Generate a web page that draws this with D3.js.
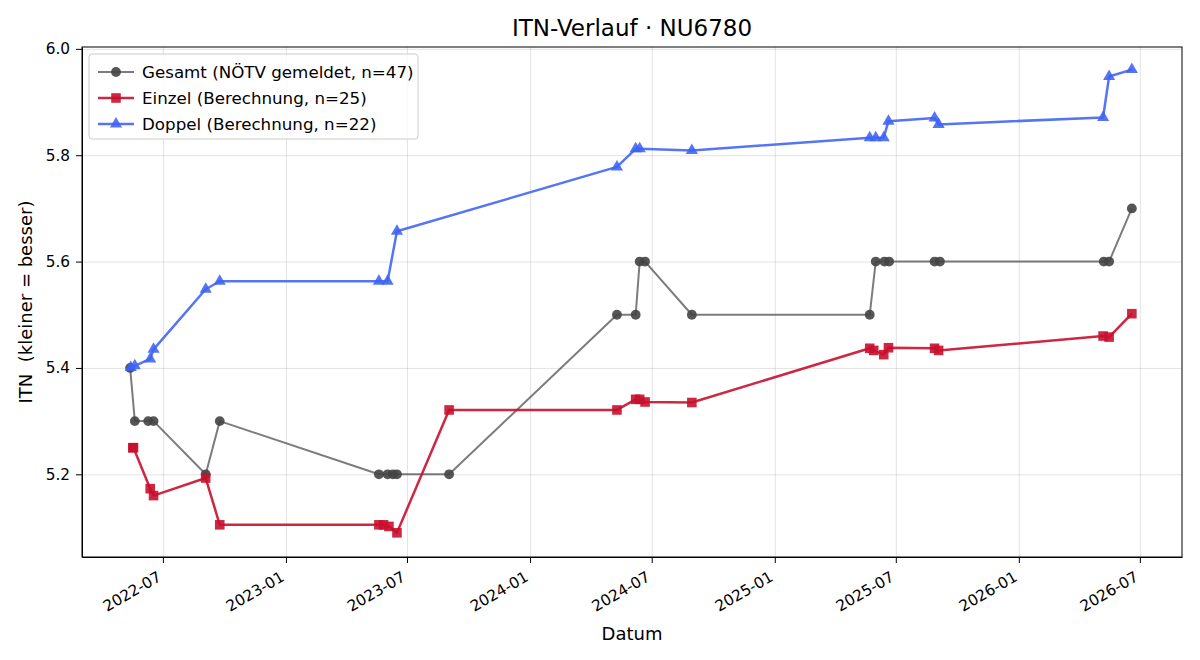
<!DOCTYPE html>
<html>
<head>
<meta charset="utf-8">
<script src="https://cdn.jsdelivr.net/npm/d3@7"></script>
<style>
  body { margin: 0; background: #fff; }
  svg { font-family: "DejaVu Sans", sans-serif; }
  .grid line { stroke: #b0b0b0; stroke-opacity: 0.35; }
  .grid path { display: none; }
  .axis path, .axis line { stroke: #000; }
</style>
</head>
<body>
<div id="chart"></div>
<script>
/* ITN-Verlauf chart */

const TITLE = 'ITN-Verlauf · NU6780';

// Gesamt (NÖTV gemeldet) — distinct visible points
const gesamtDates = [
  '2022-05-13', '2022-05-20', '2022-06-09', '2022-06-17', '2022-09-03', '2022-09-24',
  '2023-05-20', '2023-06-02', '2023-06-10', '2023-06-16', '2023-09-02',
  '2024-05-10', '2024-06-07', '2024-06-13', '2024-06-21', '2024-08-30',
  '2025-05-23', '2025-06-01', '2025-06-14', '2025-06-21', '2025-08-28', '2025-09-05',
  '2026-05-08', '2026-05-16', '2026-06-19'
];
const gesamtValues = [
  5.4, 5.3, 5.3, 5.3, 5.2, 5.3,
  5.2, 5.2, 5.2, 5.2, 5.2,
  5.5, 5.5, 5.6, 5.6, 5.5,
  5.5, 5.6, 5.6, 5.6, 5.6, 5.6,
  5.6, 5.6, 5.7
];

// Einzel (Berechnung, n=25)
const einzelDates = [
  '2022-05-17', '2022-05-18', '2022-06-12', '2022-06-17', '2022-09-03', '2022-09-24',
  '2023-05-20', '2023-05-27', '2023-06-04', '2023-06-16', '2023-09-02',
  '2024-05-10', '2024-06-07', '2024-06-13', '2024-06-21', '2024-08-30',
  '2025-05-23', '2025-05-29', '2025-06-13', '2025-06-20', '2025-08-28', '2025-09-03',
  '2026-05-07', '2026-05-16', '2026-06-19'
];
const einzelValues = [
  5.250, 5.250, 5.173, 5.160, 5.193, 5.105,
  5.105, 5.105, 5.102, 5.090, 5.321,
  5.321, 5.341, 5.341, 5.336, 5.335,
  5.437, 5.433, 5.425, 5.438, 5.437, 5.433,
  5.460, 5.458, 5.502
];

// Doppel (Berechnung, n=22)
const doppelDates = [
  '2022-05-14', '2022-05-20', '2022-06-12', '2022-06-17', '2022-09-03', '2022-09-24',
  '2023-05-20', '2023-06-02', '2023-06-16',
  '2024-05-10', '2024-06-07', '2024-06-13', '2024-08-30',
  '2025-05-23', '2025-06-01', '2025-06-13', '2025-06-20', '2025-08-28', '2025-09-03',
  '2026-05-07', '2026-05-16', '2026-06-19'
];
const doppelValues = [
  5.401, 5.404, 5.417, 5.435, 5.548, 5.563,
  5.563, 5.563, 5.657,
  5.778, 5.812, 5.812, 5.809,
  5.833, 5.833, 5.833, 5.864, 5.870, 5.858,
  5.871, 5.948, 5.961
];

const legendLabels = [
  'Gesamt (NÖTV gemeldet, n=47)',
  'Einzel (Berechnung, n=25)',
  'Doppel (Berechnung, n=22)'
];
const yTicks = [5.2, 5.4, 5.6, 5.8, 6.0];
const xTickDates = ['2022-07-01', '2023-01-01', '2023-07-01', '2024-01-01', '2024-07-01',
                    '2025-01-01', '2025-07-01', '2026-01-01', '2026-07-01'];

/* ---- setup -------------------------------------------------------------- */
const W = 1200, H = 660;
const margin = { top: 47, right: 18, bottom: 103, left: 82 };
const iw = W - margin.left - margin.right;
const ih = H - margin.top - margin.bottom;
const parse = d3.utcParse('%Y-%m-%d');
const TICK_FONT = '15.3px';

const series = [
  { label: legendLabels[0], dates: gesamtDates, values: gesamtValues, color: '#444444',
    lineOpacity: 0.7, markerOpacity: 0.9, width: 2, marker: 'circle' },
  { label: legendLabels[1], dates: einzelDates, values: einzelValues, color: '#c8102e',
    lineOpacity: 0.9, markerOpacity: 0.9, width: 2.5, marker: 'square' },
  { label: legendLabels[2], dates: doppelDates, values: doppelValues, color: '#3d62f4',
    lineOpacity: 0.88, markerOpacity: 0.88, width: 2.5, marker: 'triangle' },
];
series.forEach(s => { s.pts = s.dates.map((d, i) => ({ t: parse(d), v: s.values[i] })); });

const x = d3.scaleUtc()
  .domain([parse('2022-03-02'), parse('2026-09-02')])
  .range([0, iw]);
const y = d3.scaleLinear()
  .domain([5.0445, 6.0035])
  .range([ih, 0]);

const svg = d3.select('#chart').append('svg')
  .attr('width', W).attr('height', H);
const g = svg.append('g').attr('transform', `translate(${margin.left},${margin.top})`);

/* ---- grid --------------------------------------------------------------- */
const xTicks = xTickDates.map(parse);
g.append('g').attr('class', 'grid')
  .attr('transform', `translate(0,${ih})`)
  .call(d3.axisBottom(x).tickValues(xTicks).tickSize(-ih).tickFormat(''));
g.append('g').attr('class', 'grid')
  .call(d3.axisLeft(y).tickValues(yTicks).tickSize(-iw).tickFormat(''));

/* ---- series ------------------------------------------------------------- */
const line = d3.line().x(d => x(d.t)).y(d => y(d.v));
const symbols = {
  circle: d3.symbolCircle,
  square: d3.symbolSquare,
  triangle: d3.symbolTriangle,
};
const symSize = { circle: 76, square: 92, triangle: 64 };

function drawMarkers(sel, s, pts) {
  sel.selectAll('path.m').data(pts).enter().append('path')
    .attr('class', 'm')
    .attr('d', d3.symbol().type(symbols[s.marker]).size(symSize[s.marker]))
    .attr('transform', d => `translate(${x(d.t)},${y(d.v)})`)
    .attr('fill', s.color)
    .attr('fill-opacity', s.markerOpacity);
}

series.forEach(s => {
  const sg = g.append('g');
  sg.append('path').datum(s.pts)
    .attr('d', line)
    .attr('fill', 'none')
    .attr('stroke', s.color)
    .attr('stroke-opacity', s.lineOpacity)
    .attr('stroke-width', s.width)
    .attr('stroke-linejoin', 'round');
  drawMarkers(sg, s, s.pts);
});

/* ---- axes --------------------------------------------------------------- */
const xAxis = g.append('g').attr('class', 'axis')
  .attr('transform', `translate(0,${ih})`)
  .call(d3.axisBottom(x).tickValues(xTicks).tickSize(6).tickSizeOuter(0)
    .tickFormat(d3.utcFormat('%Y-%m')));
xAxis.selectAll('text')
  .attr('x', 0).attr('y', 0).attr('dy', 0)
  .attr('text-anchor', 'end')
  .attr('transform', 'translate(-1,23) rotate(-30)')
  .style('font-family', '"DejaVu Sans", sans-serif')
  .style('font-size', TICK_FONT)
  .attr('fill', '#000');

const yAxis = g.append('g').attr('class', 'axis')
  .call(d3.axisLeft(y).tickValues(yTicks).tickSize(6).tickSizeOuter(0).tickPadding(6)
    .tickFormat(d3.format('.1f')));
yAxis.selectAll('text')
  .style('font-family', '"DejaVu Sans", sans-serif')
  .style('font-size', TICK_FONT)
  .attr('fill', '#000');

// frame
g.append('rect').attr('width', iw).attr('height', ih)
  .attr('fill', 'none').attr('stroke', '#000').attr('stroke-width', 1);

/* ---- labels ------------------------------------------------------------- */
svg.append('text')
  .attr('x', margin.left + iw / 2).attr('y', 36)
  .attr('text-anchor', 'middle')
  .style('font-size', '23px')
  .text(TITLE);

svg.append('text')
  .attr('x', margin.left + iw / 2).attr('y', 640)
  .attr('text-anchor', 'middle')
  .style('font-size', '18px')
  .text('Datum');

svg.append('text')
  .attr('transform', `translate(32,${margin.top + ih / 2}) rotate(-90)`)
  .attr('text-anchor', 'middle')
  .style('font-size', '18px')
  .text('ITN\u00a0\u00a0(kleiner = besser)');

/* ---- legend ------------------------------------------------------------- */
const lg = g.append('g').attr('transform', 'translate(7,7)');
lg.append('rect')
  .attr('width', 329).attr('height', 85).attr('rx', 3)
  .attr('fill', '#fff').attr('fill-opacity', 0.8)
  .attr('stroke', '#cccccc');
series.forEach((s, i) => {
  const row = lg.append('g').attr('transform', `translate(0,${18 + i * 26})`);
  row.append('line')
    .attr('x1', 9).attr('x2', 45).attr('y1', 0).attr('y2', 0)
    .attr('stroke', s.color).attr('stroke-opacity', s.lineOpacity)
    .attr('stroke-width', s.width);
  row.append('path')
    .attr('d', d3.symbol().type(symbols[s.marker]).size(symSize[s.marker]))
    .attr('transform', 'translate(27,0)')
    .attr('fill', s.color).attr('fill-opacity', s.markerOpacity);
  row.append('text')
    .attr('x', 53).attr('y', 0).attr('dy', '0.35em')
    .style('font-size', '16.7px')
    .text(s.label);
});
</script>
</body>
</html>
